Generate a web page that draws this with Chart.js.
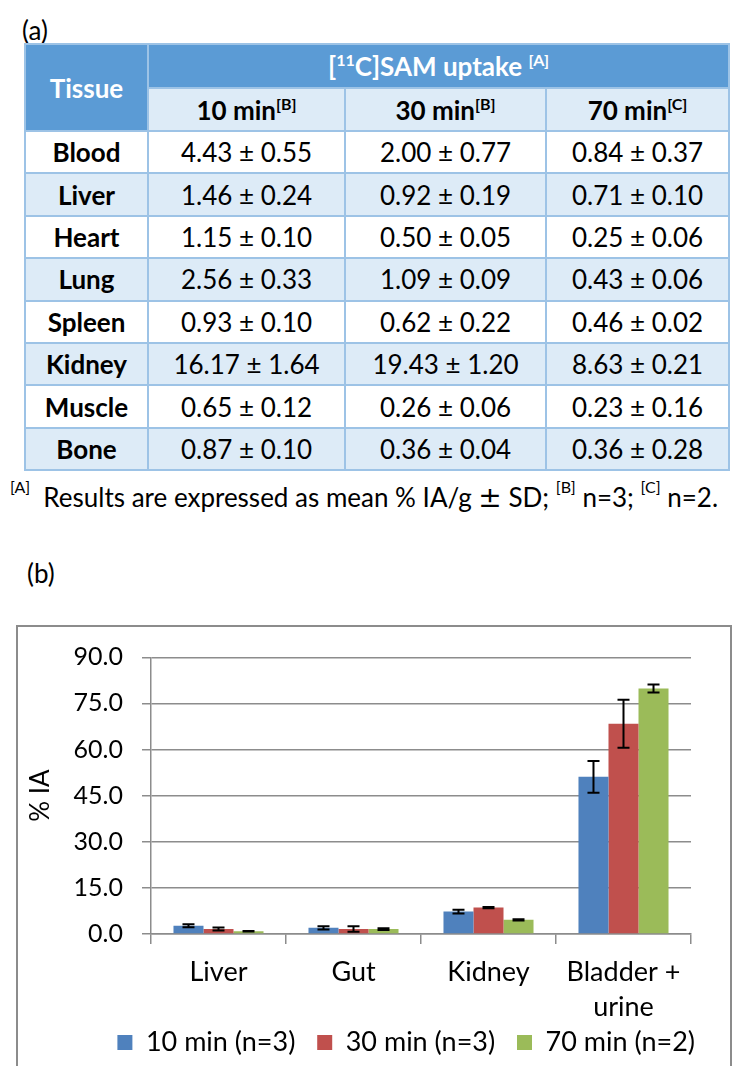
<!DOCTYPE html>
<html>
<head>
<meta charset="utf-8">
<script src="https://cdn.jsdelivr.net/npm/chart.js@4.4.0/dist/chart.umd.min.js"></script>
<style>
  body { margin: 0; background: #fff; font-family: Lato, sans-serif; color: #000; }
  .lbl { position: absolute; font-size: 26px; line-height: 30px; }
  #tbl { position: absolute; left: 24px; top: 43px; width: 704px; table-layout: fixed;
         border-collapse: collapse; font-size: 26px; }
  #tbl td, #tbl th { border: 2px solid #9dc3e6; text-align: center; padding: 0; }
  #tbl th { font-weight: bold; }
  #tbl .top { background: #5b9bd5; color: #fff; height: 42px; }
  #tbl .sub { background: #ddebf7; height: 41px; }
  #tbl tr.d td { height: 40.4px; }
  #tbl tr.d td:first-child { font-weight: bold; }
  #tbl tr.odd td { background: #ddebf7; }
  sup { font-size: 16px; line-height: 0; vertical-align: 10px; }
  #note { position: absolute; left: 10px; top: 482px; font-size: 26px; line-height: 30px; white-space: nowrap; }
  #note sup { vertical-align: 14px; }
  #frame { position: absolute; left: 16px; top: 625px; width: 716px; height: 460px;
           border: 2px solid #8c8c8c; box-sizing: border-box; }
  #wrap { position: absolute; left: 18px; top: 627px; width: 712px; height: 439px; }
</style>
</head>
<body>
<div class="lbl" style="left:22px; top:15px;">(a)</div>
<table id="tbl">
  <colgroup><col style="width:123px"><col style="width:197px"><col style="width:201px"><col style="width:183px"></colgroup>
  <thead>
    <tr><th class="top" rowspan="2">Tissue</th><th class="top" colspan="3">[<sup>11</sup>C]SAM uptake <sup>[A]</sup></th></tr>
    <tr id="subrow"></tr>
  </thead>
  <tbody id="body"></tbody>
</table>
<div id="note"><sup>[A]</sup>&nbsp; Results are expressed as mean % IA/g <span style="font-family:'DejaVu Sans'; font-size:28px">±</span> SD; <sup>[B]</sup>&nbsp;n=3; <sup>[C]</sup>&nbsp;n=2.</div>
<div class="lbl" style="left:27px; top:558px;">(b)</div>
<div id="frame"></div>
<div id="wrap"><canvas id="chart"></canvas></div>
<script>
// table (a)
const timeHeads = ['10 min', '30 min', '70 min'];
const timeNotes = ['[B]', '[B]', '[C]'];
const tissues = ['Blood', 'Liver', 'Heart', 'Lung', 'Spleen', 'Kidney', 'Muscle', 'Bone'];
const uptake10 = ['4.43 ± 0.55', '1.46 ± 0.24', '1.15 ± 0.10', '2.56 ± 0.33', '0.93 ± 0.10', '16.17 ± 1.64', '0.65 ± 0.12', '0.87 ± 0.10'];
const uptake30 = ['2.00 ± 0.77', '0.92 ± 0.19', '0.50 ± 0.05', '1.09 ± 0.09', '0.62 ± 0.22', '19.43 ± 1.20', '0.26 ± 0.06', '0.36 ± 0.04'];
const uptake70 = ['0.84 ± 0.37', '0.71 ± 0.10', '0.25 ± 0.06', '0.43 ± 0.06', '0.46 ± 0.02', '8.63 ± 0.21', '0.23 ± 0.16', '0.36 ± 0.28'];

// chart (b)
const categories = ['Liver', 'Gut', 'Kidney', ['Bladder +', 'urine']];
const seriesNames = ['10 min (n=3)', '30 min (n=3)', '70 min (n=2)'];
const seriesColors = ['#4f81bd', '#c0504d', '#9bbb59'];
const mean10 = [2.7, 2.0, 7.3, 51.1];
const mean30 = [1.6, 1.6, 8.6, 68.4];
const mean70 = [0.9, 1.6, 4.6, 79.8];
const sd10 = [0.5, 0.5, 0.6, 5.2];
const sd30 = [0.5, 0.9, 0.2, 7.8];
const sd70 = [0.1, 0.3, 0.2, 1.3];
const yMin = 0, yMax = 90, yStep = 15;

let sub = document.getElementById('subrow');
timeHeads.forEach((t, i) => {
  sub.innerHTML += '<th class="sub">' + t + '<sup>' + timeNotes[i] + '</sup></th>';
});
let body = document.getElementById('body');
tissues.forEach((t, i) => {
  body.innerHTML += '<tr class="d' + (i % 2 ? ' odd' : '') + '"><td>' + t + '</td><td>' +
    uptake10[i] + '</td><td>' + uptake30[i] + '</td><td>' + uptake70[i] + '</td></tr>';
});

// error bars, drawn on top of the bars through the y scale
const errorBars = {
  id: 'errorBars',
  afterDatasetsDraw(chart) {
    const ctx = chart.ctx;
    const y = chart.scales.y;
    ctx.save();
    ctx.strokeStyle = '#000';
    ctx.lineWidth = 2;
    chart.data.datasets.forEach((ds, i) => {
      chart.getDatasetMeta(i).data.forEach((bar, j) => {
        const hi = y.getPixelForValue(ds.data[j] + ds.sd[j]);
        const lo = y.getPixelForValue(ds.data[j] - ds.sd[j]);
        ctx.beginPath();
        ctx.moveTo(bar.x, hi); ctx.lineTo(bar.x, lo);
        ctx.moveTo(bar.x - 6, hi); ctx.lineTo(bar.x + 6, hi);
        ctx.moveTo(bar.x - 6, lo); ctx.lineTo(bar.x + 6, lo);
        ctx.stroke();
      });
    });
    ctx.restore();
  }
};

Chart.defaults.font.family = 'Lato';
Chart.defaults.color = '#000';
const gridGray = '#8c8c8c';

new Chart(document.getElementById('chart'), {
  type: 'bar',
  data: {
    labels: categories,
    datasets: [
      { label: seriesNames[0], data: mean10, sd: sd10, backgroundColor: seriesColors[0] },
      { label: seriesNames[1], data: mean30, sd: sd30, backgroundColor: seriesColors[1] },
      { label: seriesNames[2], data: mean70, sd: sd70, backgroundColor: seriesColors[2] }
    ]
  },
  options: {
    responsive: true,
    maintainAspectRatio: false,
    animation: false,
    categoryPercentage: 0.667,
    barPercentage: 1.0,
    layout: { padding: { top: 25, right: 27, left: 0, bottom: 0 } },
    plugins: {
      tooltip: { enabled: false },
      legend: {
        position: 'bottom',
        align: 'end',
        labels: {
          boxWidth: 15, boxHeight: 15, padding: 8, font: { size: 27 },
          // widen the gap between items without growing the legend height
          generateLabels: chart => Chart.defaults.plugins.legend.labels.generateLabels(chart)
            .map((l, i, all) => Object.assign(l, { text: i < all.length - 1 ? l.text + '  ' : l.text }))
        }
      }
    },
    scales: {
      x: {
        afterFit: s => { s.height = 87; },
        grid: { drawOnChartArea: false, tickLength: 10, color: gridGray, lineWidth: 1.5 },
        border: { color: gridGray, width: 1.5 },
        ticks: { padding: 11, font: { size: 27, lineHeight: 1.3 }, maxRotation: 0 }
      },
      y: {
        min: yMin, max: yMax,
        afterFit: s => { s.width = 133; },
        grid: { color: gridGray, lineWidth: 1.5, tickLength: 9 },
        border: { color: gridGray, width: 1.5 },
        // small lineHeight so the top label does not push the plot down
        ticks: { stepSize: yStep, padding: 19, font: { size: 25, lineHeight: 0.9 }, callback: v => v.toFixed(1) },
        title: { display: true, text: '% IA', font: { size: 26 }, padding: 7 }
      },
      // empty right-hand axis, only keeps the plot off the frame edge
      yRight: {
        type: 'linear', position: 'right',
        afterFit: s => { s.width = 12; },
        grid: { display: false }, border: { display: false }, ticks: { display: false }
      }
    }
  },
  plugins: [errorBars]
});
</script>
</body>
</html>
